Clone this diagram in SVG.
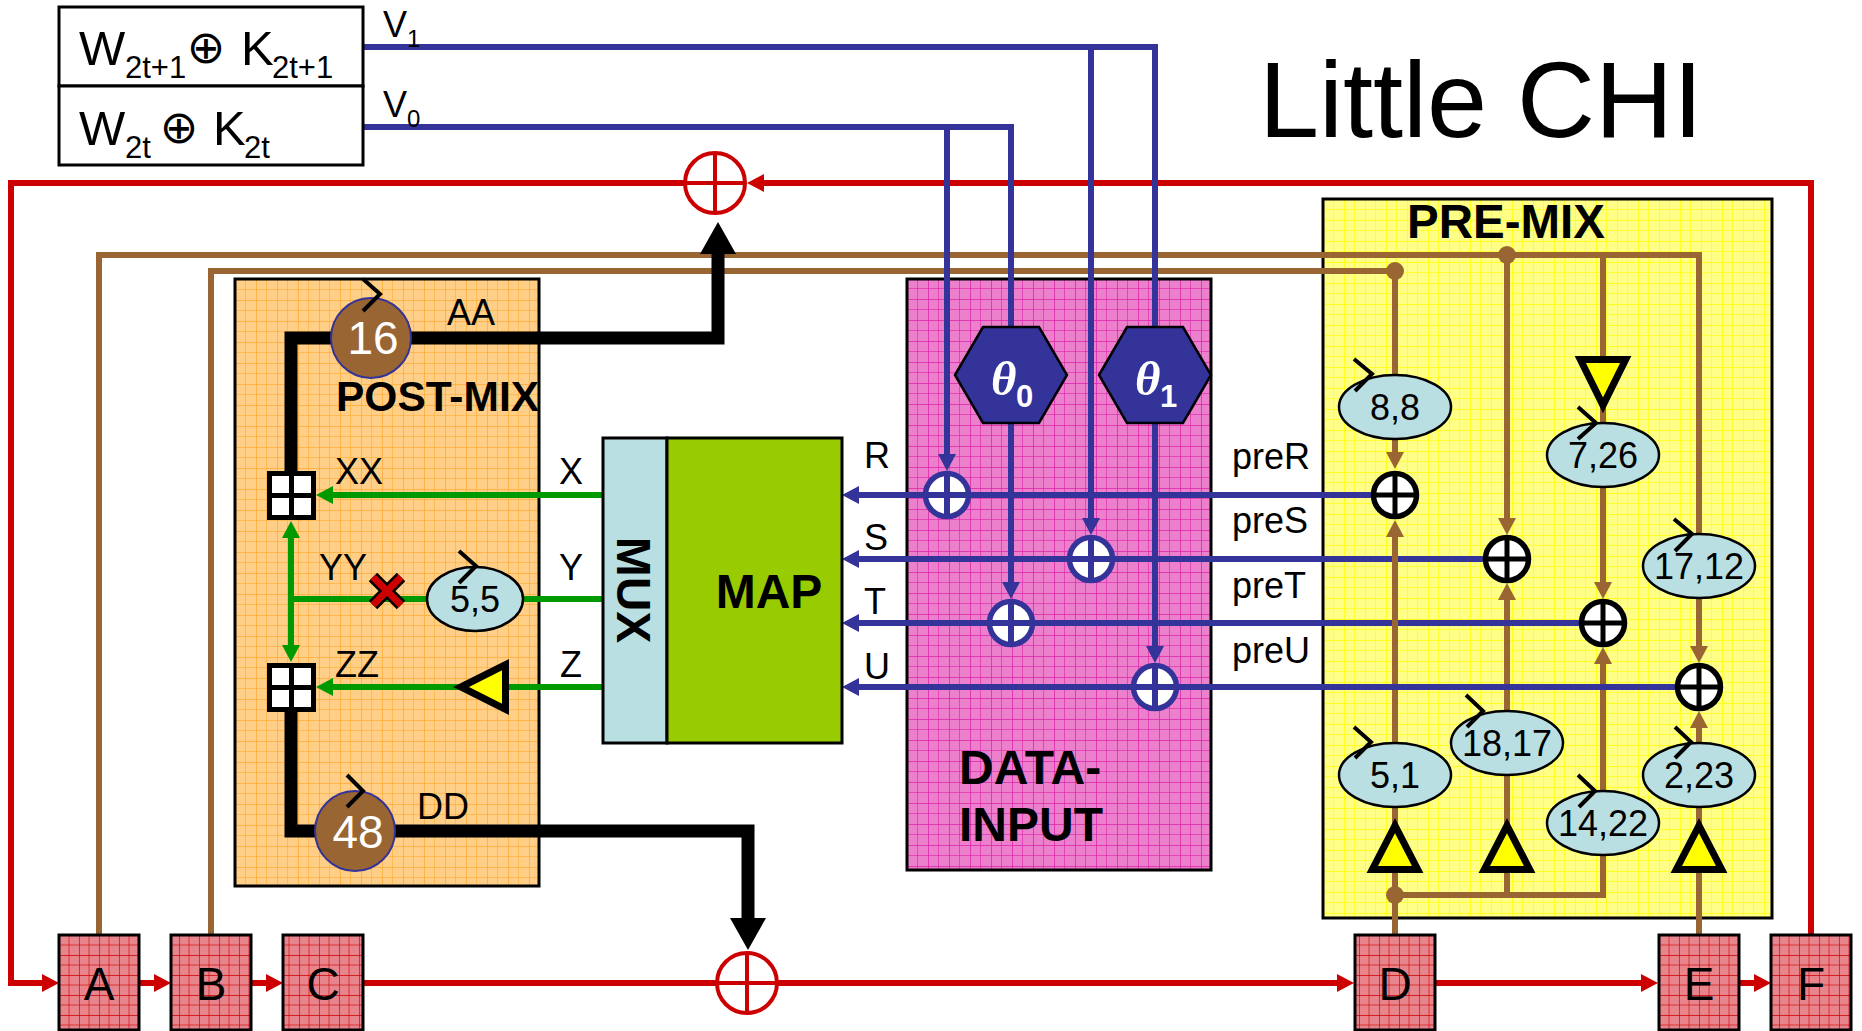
<svg xmlns="http://www.w3.org/2000/svg" width="1862" height="1031" viewBox="0 0 1862 1031">
<style>
text{font-family:"Liberation Sans",Arial,sans-serif;font-size:36px;fill:#000}
.b{font-weight:700}
.big{font-size:46px}
.w{font-size:49px}
.s{font-size:31px}
.v{font-size:24px}
.wh{fill:#fff}
.c{text-anchor:middle}
.ox{font-family:"DejaVu Sans",sans-serif;font-size:46px;text-anchor:middle}
.th{font-family:"Liberation Serif",serif;font-style:italic;font-weight:700;font-size:49px}
.ln{fill:none;stroke-width:6;stroke-linejoin:miter}
.red{stroke:#c00}
.brn{stroke:#963}
.blu{stroke:#339}
.grn{stroke:#090}
.blk{fill:none;stroke:#000;stroke-width:13;stroke-linejoin:miter}
.panel{stroke:#000;stroke-width:3}
.reg{stroke:#000;stroke-width:3;fill:url(#pr)}
.ell{fill:#b9dfe3;stroke:#000;stroke-width:2.5}
.chev{fill:none;stroke:#000;stroke-width:4}
.tri{fill:#ff0;stroke:#000;stroke-width:7}
.rot{fill:#963;stroke:#339;stroke-width:2}
.hex{fill:#339;stroke:#000;stroke-width:2.5}
.xb{fill:#fff;stroke:#000;stroke-width:5.5}
.xu{fill:#fff;stroke:#339;stroke-width:5.5}
.xr{fill:#fff;stroke:#c00;stroke-width:4}
.sq{fill:#fff;stroke:#000;stroke-width:5}
</style>
<defs>
<pattern id="po" width="21" height="21" patternUnits="userSpaceOnUse" x="235" y="279"><rect width="21" height="21" fill="#ffcf88"/><path d="M0 0H21M0 0V21" stroke="#ffaa33" stroke-width="1.5" fill="none"/><path d="M0 10.5H21M10.5 0V21" stroke="#ffaa33" stroke-width="1" stroke-opacity=".6" fill="none"/></pattern>
<pattern id="pp" width="21" height="21" patternUnits="userSpaceOnUse" x="907" y="278"><rect width="21" height="21" fill="#ec80cc"/><path d="M0 0H21M0 0V21" stroke="#dd22aa" stroke-width="1.5" fill="none"/><path d="M0 10.5H21M10.5 0V21" stroke="#dd22aa" stroke-width="1" stroke-opacity=".6" fill="none"/></pattern>
<pattern id="py" width="21" height="21" patternUnits="userSpaceOnUse" x="1323" y="199"><rect width="21" height="21" fill="#ffff88"/><path d="M0 0H21M0 0V21" stroke="#ffff00" stroke-width="1.5" fill="none"/><path d="M0 10.5H21M10.5 0V21" stroke="#ffff00" stroke-width="1" stroke-opacity=".6" fill="none"/></pattern>
<pattern id="pr" width="20" height="20" patternUnits="userSpaceOnUse" x="59" y="935"><rect width="20" height="20" fill="#e8848c"/><path d="M0 0H20M0 0V20" stroke="#cc0000" stroke-width="1.3" fill="none"/><path d="M0 10H20M10 0V20" stroke="#cc0000" stroke-width="1" stroke-opacity=".6" fill="none"/></pattern>
<marker id="ar" markerUnits="userSpaceOnUse" markerWidth="18" markerHeight="18" refX="9" refY="9" orient="auto" viewBox="0 0 18 18"><path d="M0 0L17 9L0 18Z" fill="#c00"/></marker>
<marker id="ab" markerUnits="userSpaceOnUse" markerWidth="18" markerHeight="18" refX="9" refY="9" orient="auto" viewBox="0 0 18 18"><path d="M0 0L17 9L0 18Z" fill="#963"/></marker>
<marker id="au" markerUnits="userSpaceOnUse" markerWidth="18" markerHeight="18" refX="9" refY="9" orient="auto" viewBox="0 0 18 18"><path d="M0 0L17 9L0 18Z" fill="#339"/></marker>
<marker id="ag" markerUnits="userSpaceOnUse" markerWidth="18" markerHeight="18" refX="9" refY="9" orient="auto" viewBox="0 0 18 18"><path d="M0 0L17 9L0 18Z" fill="#090"/></marker>
<marker id="ak" markerUnits="userSpaceOnUse" markerWidth="34" markerHeight="36" refX="4" refY="18" orient="auto" viewBox="0 0 34 36"><path d="M0 0L32 18L0 36Z" fill="#000"/></marker>
</defs>
<rect width="1862" height="1031" fill="#fff"/>

<g id="panels">
<rect id="post-mix" class="panel" x="235" y="279" width="304" height="607" fill="url(#po)"/>
<rect id="data-input" class="panel" x="907" y="279" width="304" height="591" fill="url(#pp)"/>
<rect id="pre-mix" class="panel" x="1323" y="199" width="449" height="719" fill="url(#py)"/>
</g>

<g id="connectors">
<path class="ln red" d="M1811 935V183H755" marker-end="url(#ar)"/>
<path class="ln red" d="M684 183H11V983H51" marker-end="url(#ar)"/>
<path class="ln red" d="M139 983H163" marker-end="url(#ar)"/>
<path class="ln red" d="M251 983H275" marker-end="url(#ar)"/>
<path class="ln red" d="M363 983H716"/>
<path class="ln red" d="M778 983H1346" marker-end="url(#ar)"/>
<path class="ln red" d="M1435 983H1650" marker-end="url(#ar)"/>
<path class="ln red" d="M1739 983H1763" marker-end="url(#ar)"/>
<path class="ln blu" d="M1484 559H850" marker-end="url(#au)"/>
<path class="ln blu" d="M1580 623H850" marker-end="url(#au)"/>
<path class="ln brn" d="M99 935V255H1699V566"/>
<path class="ln brn" d="M211 935V271H1395V388"/>
<path class="ln brn" d="M1395 430V461" marker-end="url(#ab)"/>
<path class="ln brn" d="M1395 935V528" marker-end="url(#ab)"/>
<path class="ln brn" d="M1507 255V527" marker-end="url(#ab)"/>
<path class="ln brn" d="M1395 895H1603V655" marker-end="url(#ab)"/>
<path class="ln brn" d="M1507 895V591" marker-end="url(#ab)"/>
<path class="ln brn" d="M1603 255V591" marker-end="url(#ab)"/>
<path class="ln brn" d="M1699 566V655" marker-end="url(#ab)"/>
<path class="ln brn" d="M1699 935V719" marker-end="url(#ab)"/>
<path class="ln blu" d="M1500 623H1515"/>
<path class="ln blu" d="M363 47H1155V655" marker-end="url(#au)"/>
<path class="ln blu" d="M1091 47V527" marker-end="url(#au)"/>
<path class="ln blu" d="M363 127H1011V591" marker-end="url(#au)"/>
<path class="ln blu" d="M947 127V463" marker-end="url(#au)"/>
<path class="ln blu" d="M1372 495H850" marker-end="url(#au)"/>
<path class="ln blu" d="M1676 687H850" marker-end="url(#au)"/>
<path class="ln grn" d="M602 495H324" marker-end="url(#ag)"/>
<path class="ln grn" d="M602 599H291"/>
<path class="ln grn" d="M602 687H324" marker-end="url(#ag)"/>
<path class="ln grn" d="M291 599V529" marker-end="url(#ag)"/>
<path class="ln grn" d="M291 599V654" marker-end="url(#ag)"/>
<path class="blk" d="M291 471V338H718V250" marker-end="url(#ak)"/>
<path class="blk" d="M291 712V831H748V922" marker-end="url(#ak)"/>
</g>

<g id="inputs">
<rect x="59" y="7" width="304" height="79" fill="#fff" stroke="#000" stroke-width="3"/>
<rect x="59" y="86" width="304" height="79" fill="#fff" stroke="#000" stroke-width="3"/>
<text class="w" x="79" y="65">W</text><text class="s" x="125" y="78">2t+1</text>
<text x="206" y="63" class="ox">⊕</text>
<text class="w" x="241" y="65">K</text><text class="s" x="272" y="78">2t+1</text>
<text class="w" x="79" y="145">W</text><text class="s" x="125" y="158">2t</text>
<text x="179" y="143" class="ox">⊕</text>
<text class="w" x="213" y="145">K</text><text class="s" x="244" y="158">2t</text>
<text x="383" y="37">V</text><text class="v" x="407" y="47">1</text>
<text x="383" y="117">V</text><text class="v" x="407" y="127">0</text>
</g>

<text id="title" x="1481" y="137" style="font-size:108px" text-anchor="middle">Little CHI</text>

<g id="xor-top"><circle class="xr" cx="715" cy="183" r="30"/><path class="ln red" style="stroke-width:4" d="M685 183H745M715 153V213"/></g>
<g id="xor-bottom"><circle class="xr" cx="747" cy="983" r="30"/><path class="ln red" style="stroke-width:4" d="M717 983H777M747 953V1013"/></g>

<g id="reg-a"><rect class="reg" x="59" y="935" width="80" height="95"/><text class="big c" x="99" y="1000">A</text></g>
<g id="reg-b"><rect class="reg" x="171" y="935" width="80" height="95"/><text class="big c" x="211" y="1000">B</text></g>
<g id="reg-c"><rect class="reg" x="283" y="935" width="80" height="95"/><text class="big c" x="323" y="1000">C</text></g>
<g id="reg-d"><rect class="reg" x="1355" y="935" width="80" height="95"/><text class="big c" x="1395" y="1000">D</text></g>
<g id="reg-e"><rect class="reg" x="1659" y="935" width="80" height="95"/><text class="big c" x="1699" y="1000">E</text></g>
<g id="reg-f"><rect class="reg" x="1771" y="935" width="80" height="95"/><text class="big c" x="1811" y="1000">F</text></g>

<g id="post-labels">
<text class="b" x="336" y="411" style="font-size:42.500px">POST-MIX</text>
<text x="447" y="325">AA</text><text x="417" y="819">DD</text>
<text x="335" y="484">XX</text><text x="319" y="580">YY</text><text x="335" y="677">ZZ</text>
<text class="c" x="571" y="484">X</text><text class="c" x="571" y="580">Y</text><text class="c" x="571" y="677">Z</text>
</g>

<g id="rot-16"><circle class="rot" cx="371" cy="338" r="40"/><text class="big wh c" x="373" y="354">16</text><path class="chev" d="M363 279L380 294L363 311"/></g>
<g id="rot-48"><circle class="rot" cx="355" cy="831" r="40"/><text class="big wh c" x="358" y="848">48</text><path class="chev" d="M347 775L363 791L347 807"/></g>

<g id="add-xx"><rect class="sq" x="269.500" y="473.500" width="44" height="44"/><path d="M291.500 473V517M269 495.500H313" stroke="#000" stroke-width="5"/></g>
<g id="add-zz"><rect class="sq" x="269.500" y="665.500" width="44" height="44"/><path d="M291.500 665V709M269 687.500H313" stroke="#000" stroke-width="5"/></g>
<g id="cross"><path d="M373 577L401 605M401 577L373 605" stroke="#000" stroke-width="12"/><path d="M373 577L401 605M401 577L373 605" stroke="#c00" stroke-width="7"/></g>
<g id="e55"><ellipse class="ell" cx="475" cy="599" rx="48" ry="32"/><text class="c" x="475" y="612">5,5</text><path class="chev" d="M459 551L476 566L459 583"/></g>
<polygon id="tri-z" class="tri" points="461,687 505.500,664.700 505.500,709.300"/>

<g id="mux"><rect x="603" y="438" width="64" height="305" fill="#b9dfe3" stroke="#000" stroke-width="3"/><text class="b c" transform="translate(617 590) rotate(90)" style="font-size:48px">MUX</text></g>
<g id="map"><rect x="667" y="438" width="175" height="305" fill="#9c0" stroke="#000" stroke-width="3"/><text class="b c" x="769" y="608" style="font-size:48px">MAP</text></g>

<g id="data-labels">
<text class="b" x="959" y="784" style="font-size:48px">DATA-</text><text class="b" x="959" y="841" style="font-size:48px">INPUT</text>
<text x="864" y="468">R</text><text x="864" y="550">S</text><text x="864" y="614">T</text><text x="864" y="679">U</text>
<text x="1232" y="469">preR</text><text x="1232" y="533">preS</text><text x="1232" y="598">preT</text><text x="1232" y="663">preU</text>
</g>

<g id="theta0"><polygon class="hex" points="955,375 983,327 1039,327 1067,375 1039,423 983,423"/><text class="wh th" x="991" y="395">θ</text><text class="wh b s" x="1016" y="407">0</text></g>
<g id="theta1"><polygon class="hex" points="1099,375 1127,327 1183,327 1211,375 1183,423 1127,423"/><text class="wh th" x="1135" y="395">θ</text><text class="wh b s" x="1160" y="407">1</text></g>

<g id="xor-r"><circle class="xu" cx="947" cy="495" r="21.500"/><path class="ln blu" d="M947 473V517M925 495H969"/></g>
<g id="xor-s"><circle class="xu" cx="1091" cy="559" r="21.500"/><path class="ln blu" d="M1091 537V581M1069 559H1113"/></g>
<g id="xor-t"><circle class="xu" cx="1011" cy="623" r="21.500"/><path class="ln blu" d="M1011 601V645M989 623H1033"/></g>
<g id="xor-u"><circle class="xu" cx="1155" cy="687" r="21.500"/><path class="ln blu" d="M1155 665V709M1133 687H1177"/></g>

<text id="pre-mix-title" class="b" x="1407" y="238" style="font-size:47.500px">PRE-MIX</text>

<g id="xor-1"><circle class="xb" cx="1395" cy="495" r="21.500"/><path d="M1395 473V517M1373 495H1417" stroke="#000" stroke-width="5"/></g>
<g id="xor-2"><circle class="xb" cx="1507" cy="559" r="21.500"/><path d="M1507 537V581M1485 559H1529" stroke="#000" stroke-width="5"/></g>
<g id="xor-3"><circle class="xb" cx="1603" cy="623" r="21.500"/><path d="M1603 601V645M1581 623H1625" stroke="#000" stroke-width="5"/></g>
<g id="xor-4"><circle class="xb" cx="1699" cy="687" r="21.500"/><path d="M1699 665V709M1677 687H1721" stroke="#000" stroke-width="5"/></g>

<g id="dots" fill="#963"><circle cx="1395" cy="271" r="9"/><circle cx="1507" cy="255" r="9"/><circle cx="1395" cy="895" r="9"/></g>

<polygon id="tri-1" class="tri" points="1395,825.600 1372.300,869.500 1417.700,869.500"/>
<polygon id="tri-2" class="tri" points="1507,825.600 1484.300,869.500 1529.700,869.500"/>
<polygon id="tri-3" class="tri" points="1699,825.600 1676.300,869.500 1721.700,869.500"/>
<polygon id="tri-4" class="tri" points="1603,405.400 1580.300,359.500 1625.700,359.500"/>

<g id="e88"><ellipse class="ell" cx="1395" cy="407" rx="56" ry="32"/><text class="c" x="1395" y="420">8,8</text><path class="chev" d="M1354 359L1372 374L1355 391"/></g>
<g id="e726"><ellipse class="ell" cx="1603" cy="455" rx="56" ry="32"/><text class="c" x="1603" y="468">7,26</text><path class="chev" d="M1578 407L1596 423L1578 439"/></g>
<g id="e1712"><ellipse class="ell" cx="1699" cy="566" rx="56" ry="32"/><text class="c" x="1699" y="579">17,12</text><path class="chev" d="M1674 519L1692 534L1675 551"/></g>
<g id="e51"><ellipse class="ell" cx="1395" cy="775" rx="56" ry="32"/><text class="c" x="1395" y="788">5,1</text><path class="chev" d="M1354 727L1371 742L1355 758"/></g>
<g id="e1817"><ellipse class="ell" cx="1507" cy="743" rx="56" ry="32"/><text class="c" x="1507" y="756">18,17</text><path class="chev" d="M1466 695L1483 711L1467 727"/></g>
<g id="e1422"><ellipse class="ell" cx="1603" cy="823" rx="56" ry="32"/><text class="c" x="1603" y="836">14,22</text><path class="chev" d="M1578 775L1595 791L1579 807"/></g>
<g id="e223"><ellipse class="ell" cx="1699" cy="775" rx="56" ry="32"/><text class="c" x="1699" y="788">2,23</text><path class="chev" d="M1675 727L1691 742L1675 758"/></g>
</svg>
